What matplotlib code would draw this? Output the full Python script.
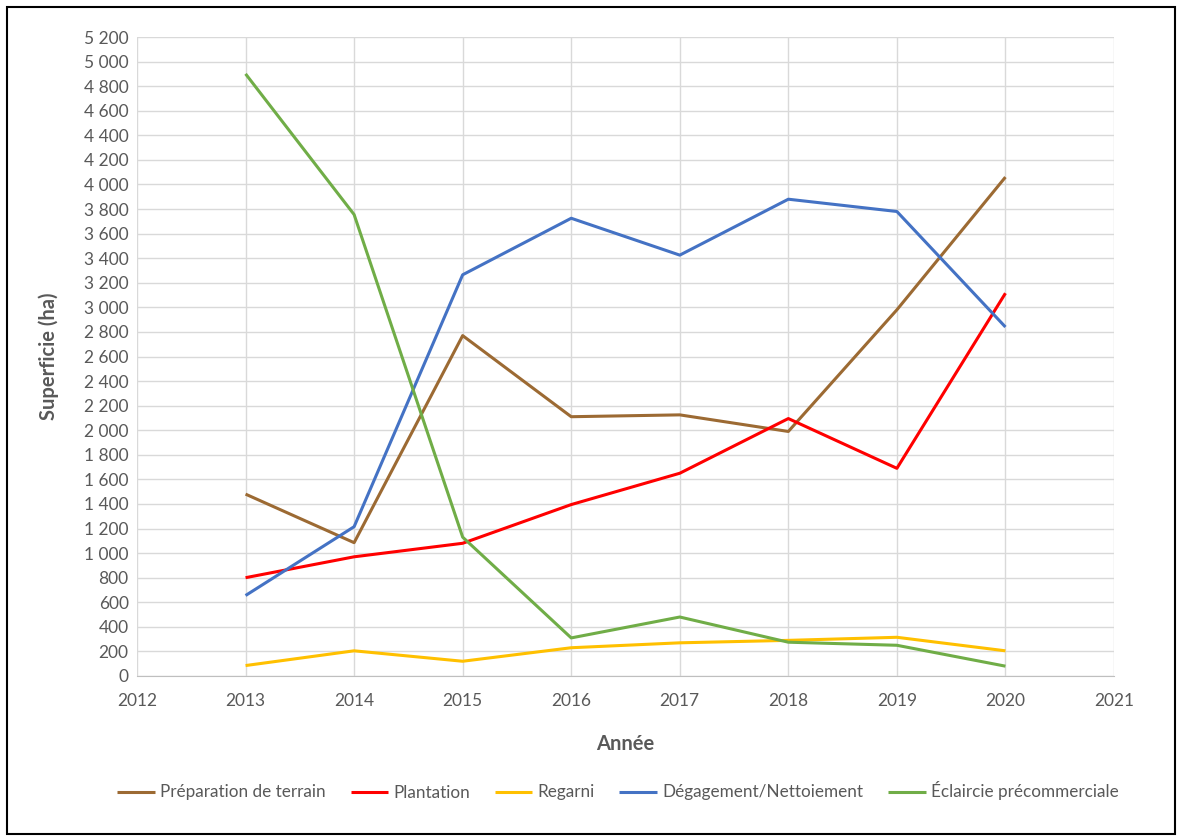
import matplotlib
matplotlib.use("Agg")
import matplotlib.pyplot as plt
from matplotlib.ticker import FuncFormatter, MultipleLocator
from matplotlib.patches import Rectangle

plt.rcParams['font.family'] = ['Lato', 'DejaVu Sans']

years = [2013, 2014, 2015, 2016, 2017, 2018, 2019, 2020]
preparation = [1480, 1085, 2770, 2110, 2125, 1990, 2980, 4060]
plantation = [800, 970, 1080, 1395, 1650, 2095, 1690, 3115]
regarni = [85, 205, 120, 230, 270, 290, 315, 205]
degagement = [655, 1215, 3265, 3725, 3425, 3880, 3780, 2840]
eclaircie = [4900, 3755, 1130, 310, 480, 275, 250, 80]

series_names = ["Préparation de terrain", "Plantation", "Regarni",
                "Dégagement/Nettoiement", "Éclaircie précommerciale"]
series_values = [preparation, plantation, regarni, degagement, eclaircie]
colors = ["#9C6A33", "#FF0000", "#FFC000", "#4472C4", "#70AD47"]

W, H = 1177, 836
fig = plt.figure(figsize=(W / 100, H / 100), dpi=100)
ax = fig.add_axes([137 / W, 1 - 676 / H, (1114 - 137) / W, (676 - 37) / H])

for name, vals, c in zip(series_names, series_values, colors):
    ax.plot(years, vals, color=c, lw=2.2, label=name, solid_capstyle='butt')

ax.set_xlim(2012, 2021)
ax.set_ylim(0, 5200)
ax.xaxis.set_major_locator(MultipleLocator(1))
ax.yaxis.set_major_locator(MultipleLocator(200))
ax.yaxis.set_major_formatter(FuncFormatter(lambda v, p: f"{int(v):,}".replace(",", " ")))
ax.grid(True, color="#D9D9D9", lw=1)
ax.set_axisbelow(True)
for s in ["top", "right", "left"]:
    ax.spines[s].set_visible(False)
ax.spines["bottom"].set_color("#BFBFBF")
ax.tick_params(axis='both', length=0, labelsize=12.5, colors="#595959")
ax.tick_params(axis='x', pad=12)
ax.tick_params(axis='y', pad=6)

ax.set_ylabel("Superficie (ha)", fontsize=14.5, fontweight='bold', color="#595959", labelpad=18)
ax.set_xlabel("Année", fontsize=14.5, fontweight='bold', color="#595959", labelpad=18)

leg = fig.legend(loc='center', bbox_to_anchor=(0.525, 1 - 791 / H), ncol=5, frameon=False,
                 fontsize=12.3, handlelength=2.2, handletextpad=0.3, columnspacing=1.45)
for t in leg.get_texts():
    t.set_color("#595959")

fig.patches.append(Rectangle((7 / W, 2 / H), (W - 9) / W, (H - 9) / H, transform=fig.transFigure,
                             fill=False, edgecolor="black", lw=1.5))

fig.savefig("out.png", dpi=100, facecolor="white")
